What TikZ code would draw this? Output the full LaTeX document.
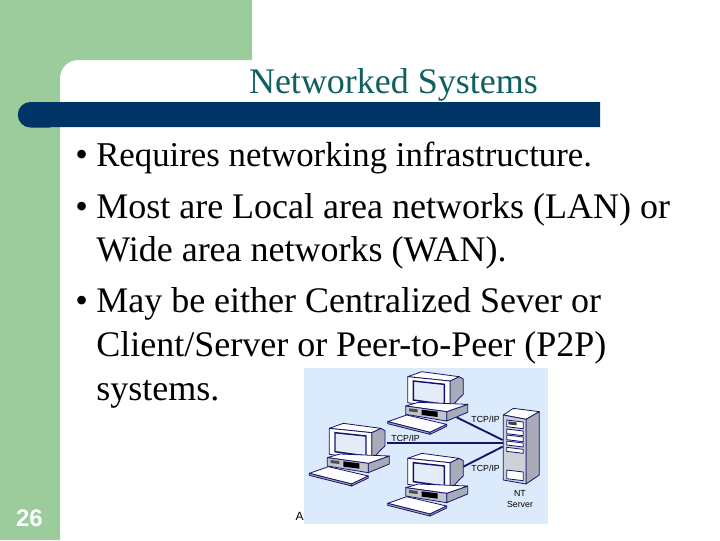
\documentclass[tikz,border=0pt]{standalone}
\usepackage{fontspec}
\setmainfont{Liberation Serif}
\setsansfont{Liberation Sans}
\definecolor{sidegreen}{HTML}{9CCC9C}
\definecolor{barnavy}{HTML}{003366}
\definecolor{titleteal}{HTML}{0F6060}
\definecolor{picblue}{HTML}{DCEBFB}
\definecolor{pcgray}{HTML}{A8ACB8}
\definecolor{pcdark}{HTML}{14146E}
\definecolor{pcscreen}{HTML}{E4ECF8}
\tikzset{
  body/.style={anchor=base west,inner sep=0pt,font=\fontsize{27}{27}\selectfont,text=black},
  title/.style={anchor=base,inner sep=0pt,font=\fontsize{27}{27}\selectfont,text=titleteal},
  lbl/.style={inner sep=0pt,font=\sffamily\fontsize{6.6}{7}\selectfont,text=black},
  pcl/.style={draw=pcdark,line width=0.6pt,line join=round},
  link/.style={draw=pcdark,line width=1.4pt},
  pc/.pic={
    % monitor (local units: zoom px of the left computer)
    \path[pcl,fill=pcgray] (245,-218)--(272,-205)--(285,-212)--(285,-258)--(272,-270)--(245,-300)--cycle;
    \path[pcl,fill=white] (118,-205)--(160,-190)--(272,-205)--(245,-218)--cycle;
    \path[pcl,fill=white] (118,-205)--(245,-218)--(245,-300)--(118,-283)--cycle;
    \path[draw=pcdark,line width=1.1pt,fill=pcscreen] (135,-218)--(228,-228)--(228,-288)--(135,-275)--cycle;
    % base
    \path[pcl,fill=pcgray] (235,-310)--(298,-288)--(298,-312)--(235,-338)--cycle;
    \path[pcl,fill=white] (112,-293)--(150,-282)--(298,-288)--(235,-310)--cycle;
    \path[pcl,fill=pcgray!70] (112,-293)--(235,-310)--(235,-338)--(112,-318)--cycle;
    \path[fill=black] (160,-304)--(208,-310)--(208,-326)--(160,-320)--cycle;
    \path[fill=black!70] (122,-300)--(148,-303)--(148,-312)--(122,-309)--cycle;
    % keyboard
    \path[pcl,fill=white] (58,-340)--(115,-320)--(235,-348)--(185,-372)--cycle;
    \path[pcl,fill=pcgray] (58,-340)--(185,-372)--(185,-378)--(58,-346)--cycle;
    \path[pcl,fill=pcgray] (185,-372)--(235,-348)--(235,-354)--(185,-378)--cycle;
  }
}
\begin{document}
\begin{tikzpicture}[x=0.75pt,y=0.75pt]
\useasboundingbox (0,0) rectangle (720,-540);
\fill[white] (0,0) rectangle (720,-540);
\fill[sidegreen] (0,0) -| (252,-60) -- (78,-60) arc[start angle=90,end angle=180,radius=18] -- (60,-540) -- (0,-540) -- cycle;
\fill[barnavy] (600,-102) -- (30.5,-102) arc[start angle=90,end angle=270,radius=12.75] -- (50,-127.5) -- (50,-127) -- (600,-127) -- cycle;
\node[title] (ttl) at (393.5,-93) {Networked Systems};
\node[body] (b1) at (75,-166) {•};
\node[body,font=\fontsize{26.1}{27}\selectfont] (l1) at (96,-166) {Requires networking infrastructure.};
\node[body] (b2) at (75,-218) {•};
\node[body] (l2) at (96,-218) {Most are Local area networks (LAN) or};
\node[body] (l3) at (96,-261) {Wide area networks (WAN).};
\node[body] (b3) at (75,-312) {•};
\node[body] (l4) at (96,-312) {May be either Centralized Sever or};
\node[body] (l5) at (96,-356) {Client/Server or Peer-to-Peer (P2P)};
\node[body] (l6) at (96,-400) {systems.};
\node[anchor=center,inner sep=0pt,text=white,font=\sffamily\bfseries\fontsize{18}{18}\selectfont] (num) at (29.5,-518) {26};
% inset picture
\fill[picblue] (304,-368) rectangle (548,-524);
\node[inner sep=0pt,font=\sffamily\fontsize{9}{9}\selectfont] (aa) at (299.5,-516) {A};
\begin{scope}[shift={(290,-360)},x=0.25pt,y=0.25pt]
  \coordinate (pcA) at (290,-250);
  \coordinate (pcB) at (500,-172);
  \coordinate (pcC) at (520,-320);
  \coordinate (srvA) at (638,-240);
  \coordinate (srvB) at (638,-250);
  \coordinate (srvC) at (638,-260);
  \draw[link] (pcA) -- (srvB);
  \draw[link] (pcB) -- (srvA);
  \draw[link] (pcC) -- (srvC);
  \pic at (0,0) {pc};
  \pic at (235,155) {pc};
  \pic at (235,-90) {pc};
  % server
  \path[pcl,fill=white] (640,-165)--(670,-145)--(748,-155)--(708,-178)--cycle;
  \path[pcl,fill=pcgray] (708,-178)--(748,-155)--(748,-345)--(708,-372)--cycle;
  \path[pcl,fill=pcgray!55] (640,-165)--(708,-178)--(708,-372)--(640,-360)--cycle;
  \foreach \yy/\hh in {180/20,207/14,225/14,243/12,262/12}{
    \path[pcl,fill=white] (650,-\yy)--(700,-\yy-6)--(700,-\yy-6-\hh)--(650,-\yy-\hh)--cycle;
  }
  \path[fill=black!75] (655,-184)--(680,-187)--(680,-196)--(655,-193)--cycle;
  \path[pcl,fill=white] (650,-330)--(700,-336)--(700,-362)--(650,-356)--cycle;
  \node[lbl] (t1) at (587,-178) {TCP/IP};
  \node[lbl] (t2) at (347,-235) {TCP/IP};
  \node[lbl] (t3) at (587,-326) {TCP/IP};
  \node[lbl] (n1) at (690,-400) {NT};
  \node[lbl] (n2) at (690,-432) {Server};
\end{scope}
\end{tikzpicture}
\end{document}
